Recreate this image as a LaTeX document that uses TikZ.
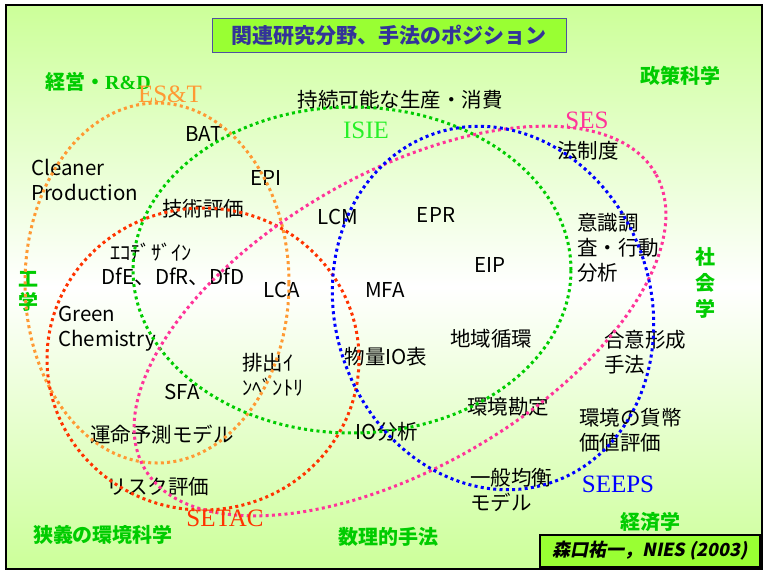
\documentclass[tikz,border=0pt]{standalone}
\usepackage{fontspec}
\setmainfont{Noto Sans CJK JP}
\newfontfamily\serifo{Liberation Serif}
\newfontfamily\jpit{Noto Sans CJK JP}[FakeSlant=0.2]
\usetikzlibrary{calc}

\definecolor{fondo}{RGB}{204,255,153}
\definecolor{caja}{RGB}{153,255,51}
\definecolor{tinta}{RGB}{51,51,153}
\definecolor{verde}{RGB}{0,204,0}
\definecolor{verdeclaro}{RGB}{40,240,40}
\definecolor{naranja}{RGB}{255,153,51}
\definecolor{rosa}{RGB}{255,51,153}
\definecolor{rojo}{RGB}{255,51,0}
\definecolor{azul}{RGB}{0,0,255}

\begin{document}
\begin{tikzpicture}[x=1pt, y=-1pt,
  punteado/.style={line width=3pt, dash pattern=on 3pt off 3.3pt},
  txt/.style={font=\fontsize{20.5}{25}\selectfont, inner sep=0pt, align=left},
  campo/.style={font=\fontsize{20}{23}\selectfont\bfseries, text=verde, inner sep=0pt, align=center},
  sigla/.style={font=\serifo\fontsize{25}{25}\selectfont, inner sep=0pt}]
  \useasboundingbox (0,0) rectangle (764,571);
  % fondo y marco
  \shade[top color=fondo, bottom color=fondo, middle color=white] (6,5) rectangle (762,569);
  \draw[line width=2pt] (6,5) rectangle (762,569);
  % titulo
  \node[draw={rgb,255:red,80;green,80;blue,160}, line width=1pt, fill=caja,
        minimum width=354pt, minimum height=34pt, inner sep=0pt,
        font=\fontsize{21}{21}\selectfont\bfseries, text=tinta] (titulo) at (389,35)
        {関連研究分野、手法のポジション};
  % campos de investigacion
  \node[campo] (gestion) at (98,82) {経営・{\serifo\bfseries R\&D}};
  \node[campo] (politica) at (680,76) {政策科学};
  \node[campo] (ingenieria) at (28,291) {工\\学};
  \node[campo, font=\fontsize{20}{26}\selectfont\bfseries] (sociologia) at (705,283) {社\\会\\学};
  \node[campo] (ambiental) at (103,535) {狭義の環境科学};
  \node[campo] (matematico) at (388,537) {数理的手法};
  \node[campo] (economia) at (650,522) {経済学};
  % temas y metodos
  \node[txt] (sostenible) at (400,100) {持続可能な生産・消費};
  \node[txt] (bat) at (204,134) {BAT};
  \node[txt, anchor=west] (cleaner) at (31,180) {Cleaner\\Production};
  \node[txt] (epi) at (266,178) {EPI};
  \node[txt] (legal) at (588,151) {法制度};
  \node[txt] (tecno) at (203,209) {技術評価};
  \node[txt] (lcm) at (338,217) {LCM};
  \node[txt] (epr) at (436,215) {EPR};
  \node[txt] (eip) at (490,265) {EIP};
  \node[txt] (mfa) at (385,290) {MFA};
  \node[txt] (lca) at (282,290) {LCA};
  \node[txt] (ecodis) at (151,252) {ｴｺﾃﾞｻﾞｲﾝ};
  \node[txt] (dfx) at (173,277) {DfE、DfR、DfD};
  \node[txt, anchor=west] (green) at (58,329) {Green\\Chemistry};
  \node[txt, anchor=west] (encuesta) at (577,248) {意識調\\査・行動\\分析};
  \node[txt] (regional) at (491,339) {地域循環};
  \node[txt] (ioflujo) at (386,357) {物量IO表};
  \node[txt, anchor=west] (inventario) at (242,375) {排出ｲ\\ﾝﾍﾞﾝﾄﾘ};
  \node[txt, anchor=west] (consenso) at (604,352) {合意形成\\手法};
  \node[txt] (sfa) at (182,392) {SFA};
  \node[txt] (destino) at (162,435) {運命予測モデル};
  \node[txt] (ioana) at (387,432) {IO分析};
  \node[txt] (cuentas) at (508,407) {環境勘定};
  \node[txt, anchor=west] (monetario) at (579,430) {環境の貨幣\\価値評価};
  \node[txt, anchor=west] (equilibrio) at (470,490) {一般均衡\\モデル};
  \node[txt] (riesgo) at (158,487) {リスク評価};
  % elipses de las sociedades
  \coordinate (cEST) at (157,283);
  \coordinate (cISIE) at (352,270);
  \coordinate (cSEEPS) at (493,308);
  \coordinate (cSES) at (400,321);
  \coordinate (cSETAC) at (203,359);
  \draw[punteado, naranja] (cEST) ellipse [x radius=132pt, y radius=180pt];
  \draw[punteado, verde] (cISIE) ellipse [x radius=219pt, y radius=163pt];
  \draw[punteado, rojo] (cSETAC) ellipse [x radius=156pt, y radius=151pt];
  \draw[punteado, rosa, rotate around={30:(cSES)}] (cSES) ellipse [x radius=295pt, y radius=147pt];
  \draw[punteado, azul, rotate around={18:(cSEEPS)}] (cSEEPS) ellipse [x radius=158pt, y radius=184pt];
  % nombres de las sociedades
  \node[sigla, text=naranja] (est) at (170,94) {ES\&T};
  \node[sigla, text=verdeclaro] (isie) at (366,130) {ISIE};
  \node[sigla, text=rosa] (ses) at (587,120) {SES};
  \node[sigla, text=rojo] (setac) at (225,518) {SETAC};
  \node[sigla, text=azul] (seeps) at (618,484) {SEEPS};
  % autor
  \node[draw, line width=1.2pt, fill=caja, minimum width=220pt, minimum height=32pt,
        inner sep=0pt, font=\jpit\fontsize{18}{18}\selectfont\bfseries] (autor) at (650,551)
        {森口祐一，NIES (2003)};
\end{tikzpicture}
\end{document}
